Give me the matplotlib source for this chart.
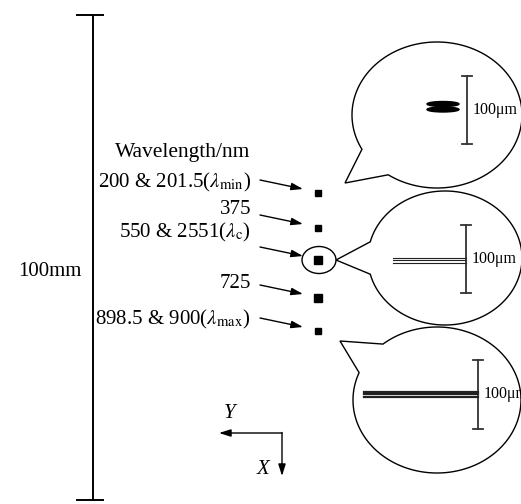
import numpy as np
import matplotlib.pyplot as plt
from matplotlib.patches import Ellipse, Polygon

plt.rcParams["font.family"] = ["Liberation Serif", "DejaVu Serif"]
plt.rcParams["mathtext.fontset"] = "stix"

# wavelength labels and the spot positions (image pixel coords, y down)
wavelength_labels = [
    r"200 & 201.5($\lambda_{\rm min}$)",
    "375",
    r"550 & 2551($\lambda_{\rm c}$)",
    "725",
    r"898.5 & 900($\lambda_{\rm max}$)",
]
label_y = [182, 209, 232, 283, 319]
spot_y = [193, 228, 260, 298, 331]
spot_size = [5, 4, 6, 6, 5]

# speech bubbles: centre, radii, junction angles (deg), tail tip
bubbles = [
    ((437, 115), 85, 73, 125, 152, (345, 183)),
    ((445, 258), 77, 67, 166, 194, (336, 260)),
    ((437, 400), 84, 73, 202, 230, (340, 341)),
]
# scale bars in bubbles: x, y top, y bottom
scale_bars = [(467, 76, 144), (466, 225, 293), (478, 360, 429)]
scale_label = "100μm"

fig = plt.figure(figsize=(5.21, 5.04), dpi=100)
ax = fig.add_axes([0, 0, 1, 1])
ax.set_xlim(0, 521)
ax.set_ylim(504, 0)
ax.axis("off")

# big 100mm scale bar
ax.plot([93, 93], [15, 500], color="black", lw=1.4)
ax.plot([77, 103], [15, 15], color="black", lw=1.4)
ax.plot([77, 103], [500, 500], color="black", lw=1.4)
ax.text(50, 272, "100mm", fontsize=15, ha="center", va="center")

ax.text(183, 152, "Wavelength/nm", fontsize=15.5, ha="center", va="center")

for lab, ly, sy, ss in zip(wavelength_labels, label_y, spot_y, spot_size):
    ax.text(251, ly, lab, fontsize=15, ha="right", va="center")
    ax.annotate("", xy=(303, sy - 4), xytext=(260, sy - 13),
                arrowprops=dict(arrowstyle="-|>,head_length=0.7,head_width=0.22",
                                color="black", lw=1.0, shrinkA=0, shrinkB=0))
    ax.plot(318, sy, marker="s", ms=ss, color="black", mec="black")

ax.add_patch(Ellipse((319, 260), 34, 27, fill=False, ec="black", lw=1.0))

# bubbles
for (cx, cy), rx, ry, a1, a2, tip in bubbles:
    t = np.radians(np.linspace(a2, a1 + 360, 300))
    pts = np.column_stack([cx + rx * np.cos(t), cy + ry * np.sin(t)])
    pts = np.vstack([pts, tip])
    ax.add_patch(Polygon(pts, closed=True, fc="white", ec="black", lw=1.0))

for x, y0, y1 in scale_bars:
    ax.plot([x, x], [y0, y1], color="#333333", lw=1.3)
    ax.plot([x - 5, x + 5], [y0, y0], color="#333333", lw=1.3)
    ax.plot([x - 5, x + 5], [y1, y1], color="#333333", lw=1.3)
    ax.text(x + 6, (y0 + y1) / 2, scale_label, fontsize=11.5, ha="left", va="center")

# spot images inside bubbles
ax.add_patch(Ellipse((443, 104), 32, 5, color="black"))
ax.add_patch(Ellipse((443, 109.5), 32, 5, color="black"))
for dy in (-2.5, 0, 2.5):
    ax.plot([393, 466], [260 + dy, 260 + dy], color="#222222", lw=0.8)
for dy in (-2.5, 0, 2.5):
    ax.plot([364, 478], [394 + dy, 394 + dy], color="#222222", lw=1.6)

# coordinate indicator
ax.annotate("", xy=(219, 433), xytext=(282, 433),
            arrowprops=dict(arrowstyle="-|>,head_length=0.7,head_width=0.22",
                            color="black", lw=1.0, shrinkA=0, shrinkB=0))
ax.annotate("", xy=(282, 476), xytext=(282, 432.5),
            arrowprops=dict(arrowstyle="-|>,head_length=0.7,head_width=0.22",
                            color="black", lw=1.0, shrinkA=0, shrinkB=0))
ax.text(230, 414, "Y", fontsize=15, style="italic", ha="center", va="center")
ax.text(263, 470, "X", fontsize=15, style="italic", ha="center", va="center")

fig.savefig("out.png", dpi=100)
